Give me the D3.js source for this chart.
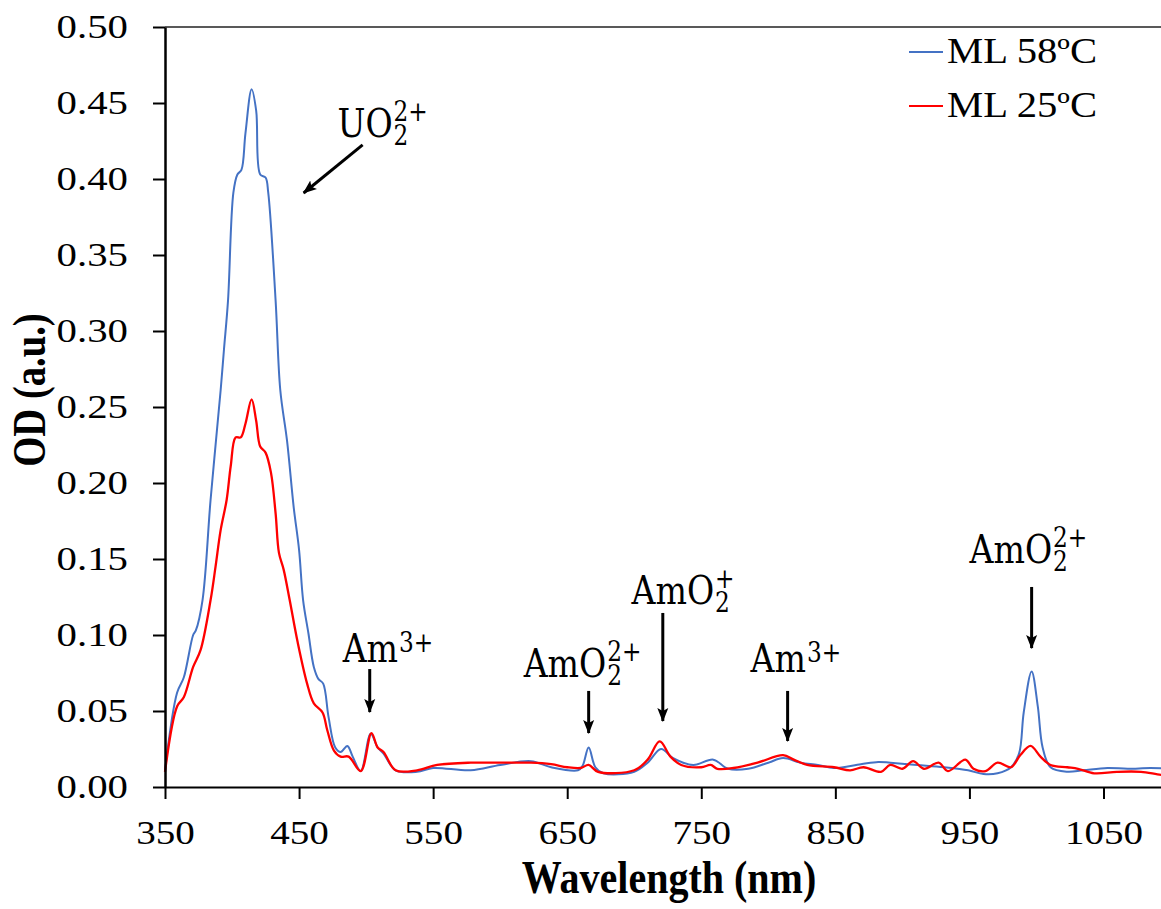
<!DOCTYPE html>
<html>
<head>
<meta charset="utf-8">
<script src="https://cdn.jsdelivr.net/npm/d3@7/dist/d3.min.js"></script>
<style>
  body { margin: 0; background: #fff; }
  svg { display: block; }
  .tick text { font-family: "Liberation Serif", "Times New Roman", serif; font-size: 34px; fill: #000; }
  .axis-title { font-family: "Liberation Serif", "Times New Roman", serif; font-size: 46px; font-weight: bold; }
  .legend text { font-family: "Liberation Serif", "Times New Roman", serif; font-size: 36px; }
  .ann { font-family: "DejaVu Serif", serif; font-size: 40px; }
  .ann-s { font-family: "DejaVu Serif", serif; font-size: 28px; }
</style>
</head>
<body>
<div id="chart"></div>
<script>
// spectra
const wl58 = [350, 359, 364, 371, 373, 378, 384, 391.5, 394, 397, 401, 404, 407, 410, 414.6, 418, 421, 425, 427, 432.5,
  436, 441, 446, 450, 453, 457, 461, 464.5, 468, 472, 477, 481, 486, 490, 496, 503.4, 508.6, 513, 522, 538,
  550, 578, 600, 623, 638, 658, 661.5, 666, 671, 677, 700, 710, 720, 729, 744, 759, 770, 785, 800, 811,
  824, 837, 849, 869, 882, 891, 911, 931, 949, 960.5, 971, 981, 987, 990.5, 996.4, 1001, 1004.6, 1010.5, 1023, 1035,
  1053, 1068, 1085, 1100]
const od58 = [0.011, 0.062, 0.072, 0.100, 0.103, 0.123, 0.189, 0.261, 0.288, 0.320, 0.391, 0.403, 0.406, 0.430, 0.459, 0.445, 0.403, 0.401, 0.391, 0.320,
  0.261, 0.228, 0.184, 0.156, 0.123, 0.101, 0.079, 0.071, 0.068, 0.046, 0.026, 0.023, 0.027, 0.020, 0.0105, 0.035, 0.026, 0.022, 0.011, 0.010,
  0.0125, 0.011, 0.0145, 0.017, 0.013, 0.011, 0.014, 0.026, 0.013, 0.009, 0.010, 0.016, 0.025, 0.019, 0.0145, 0.018, 0.012, 0.012, 0.016, 0.019,
  0.016, 0.0145, 0.0125, 0.015, 0.0165, 0.016, 0.0145, 0.013, 0.011, 0.0085, 0.009, 0.013, 0.022, 0.049, 0.076, 0.053, 0.026, 0.013, 0.010, 0.011,
  0.0125, 0.012, 0.0125, 0.012]

const wl25 = [350, 359, 364, 371, 376.5, 384, 387.7, 391.5, 396, 399, 402.7, 406.5, 410, 414.6, 418, 421, 425, 429, 432.5, 435,
  438.5, 443, 449, 456, 461, 467.5, 471, 476, 481, 487, 496, 504, 508.6, 513, 522, 538, 553, 578, 600, 623,
  638, 650, 660, 666, 673, 700, 710, 719, 727, 735, 750, 757, 762, 774, 792, 811, 819, 829, 849, 861,
  871, 884, 891, 900, 908, 916, 927, 934, 947, 953, 962, 971, 981, 988, 995.6, 1003, 1010.5, 1023, 1031, 1043,
  1060, 1078, 1093, 1100]
const od25 = [0.010, 0.053, 0.059, 0.079, 0.090, 0.123, 0.145, 0.169, 0.189, 0.211, 0.230, 0.230, 0.239, 0.255, 0.241, 0.224, 0.220, 0.207, 0.180, 0.154,
  0.143, 0.123, 0.095, 0.068, 0.055, 0.049, 0.0375, 0.024, 0.020, 0.020, 0.0105, 0.0355, 0.026, 0.023, 0.011, 0.011, 0.0145, 0.016, 0.016, 0.016,
  0.015, 0.013, 0.0125, 0.0145, 0.010, 0.011, 0.018, 0.030, 0.020, 0.0145, 0.013, 0.0145, 0.012, 0.0125, 0.016, 0.021, 0.018, 0.0145, 0.013, 0.011,
  0.013, 0.010, 0.0145, 0.012, 0.017, 0.012, 0.016, 0.0105, 0.018, 0.012, 0.0105, 0.016, 0.013, 0.021, 0.027, 0.020, 0.0145, 0.013, 0.012, 0.009,
  0.010, 0.010, 0.008, 0.008]

const seriesNames = ['ML 58ºC', 'ML 25ºC']
const seriesColors = ['#4472C4', '#FF0000']
const xTicks = [350, 450, 550, 650, 750, 850, 950, 1050]
const yTicks = [0, 0.05, 0.10, 0.15, 0.20, 0.25, 0.30, 0.35, 0.40, 0.45, 0.50]

// peak labels: text, arrow from -> to (wavelength, OD)
const peaks = [
  { base: 'UO', sup: '2+', sub: '2', at: [478.7, 0.4276], from: [497.4, 0.4224], to: [453.4, 0.3908] },
  { base: 'Am', sup: '3+', sub: null, at: [482.5, 0.0822], from: [502.7, 0.0776], to: [502.7, 0.0493] },
  { base: 'AmO', sup: '2+', sub: '2', at: [617.5, 0.0724], from: [666, 0.0632], to: [666, 0.0355] },
  { base: 'AmO', sup: '+', sub: '2', at: [698, 0.1204], from: [721.3, 0.1145], to: [721.3, 0.0434] },
  { base: 'Am', sup: '3+', sub: null, at: [786.8, 0.0757], from: [814.4, 0.0632], to: [814.4, 0.0303] },
  { base: 'AmO', sup: '2+', sub: '2', at: [950.1, 0.1474], from: [996.4, 0.1316], to: [996.4, 0.0914] }
]

const width = 1161
const height = 909
const margin = { top: 27, left: 165, bottom: 122 }

const x = d3.scaleLinear().domain([350, 1100]).range([margin.left, margin.left + 750 * 1.3407])
const y = d3.scaleLinear().domain([0, 0.5]).range([height - margin.bottom, margin.top])

const series = [
  d3.zip(wl58, od58),
  d3.zip(wl25, od25)
]

const line = d3.line()
  .x(d => x(d[0]))
  .y(d => y(d[1]))
  .curve(d3.curveCatmullRom.alpha(0.5))

const svg = d3.select('#chart').append('svg')
  .attr('width', width)
  .attr('height', height)

svg.append('defs').append('marker')
  .attr('id', 'head')
  .attr('markerUnits', 'userSpaceOnUse')
  .attr('viewBox', '0 -6 14 12')
  .attr('refX', 13)
  .attr('refY', 0)
  .attr('markerWidth', 14)
  .attr('markerHeight', 12)
  .attr('orient', 'auto')
  .append('path')
  .attr('d', 'M0,-5.5L14,0L0,5.5L3,0Z')
  .attr('fill', '#000')

// plot frame (top line)
svg.append('line')
  .attr('x1', x(350)).attr('x2', x(1100))
  .attr('y1', y(0.5)).attr('y2', y(0.5))
  .attr('stroke', '#222').attr('stroke-width', 1.6)

svg.append('g').attr('class', 'lines')
  .selectAll('path')
  .data(series)
  .join('path')
  .attr('d', line)
  .attr('fill', 'none')
  .attr('stroke', (d, i) => seriesColors[i])
  .attr('stroke-width', (d, i) => i == 1 ? 2.3 : 2)
  .attr('stroke-linejoin', 'round')

// axes
const xAxis = svg.append('g')
  .attr('class', 'xaxis')
  .attr('transform', `translate(0, ${y(0)})`)
  .call(d3.axisBottom(x).tickValues(xTicks).tickSize(12).tickSizeOuter(0).tickFormat(d3.format('d')))

xAxis.select('.domain').attr('stroke', '#000').attr('stroke-width', 2)
xAxis.selectAll('.tick line').attr('stroke', '#000').attr('stroke-width', 2)
xAxis.selectAll('.tick text')
  .attr('y', 57)
  .attr('dy', 0)
  .attr('transform', 'scale(1.15,1)')

const yAxis = svg.append('g')
  .attr('class', 'yaxis')
  .attr('transform', `translate(${x(350)}, 0)`)
  .call(d3.axisLeft(y).tickValues(yTicks).tickSize(12).tickSizeOuter(0).tickFormat(d3.format('.2f')))

yAxis.select('.domain').attr('stroke', '#000').attr('stroke-width', 2.5)
yAxis.selectAll('.tick line').attr('stroke', '#000').attr('stroke-width', 2)
yAxis.selectAll('.tick text')
  .attr('x', -37 / 1.2)
  .attr('y', 10)
  .attr('dy', 0)
  .attr('transform', 'scale(1.2,1)')

svg.append('text')
  .attr('class', 'axis-title')
  .attr('text-anchor', 'middle')
  .attr('transform', `translate(669, 893) scale(0.87,1)`)
  .text('Wavelength (nm)')

svg.append('text')
  .attr('class', 'axis-title')
  .attr('text-anchor', 'middle')
  .attr('transform', `translate(45, 390) rotate(-90) scale(0.84,1)`)
  .text('OD (a.u.)')

// legend
const legend = svg.append('g').attr('class', 'legend')
  .selectAll('g')
  .data(seriesNames)
  .join('g')
  .attr('transform', (d, i) => `translate(909, ${52 + i * 54})`)

legend.append('line')
  .attr('x1', 0).attr('x2', 34)
  .attr('stroke', (d, i) => seriesColors[i])
  .attr('stroke-width', 2)

legend.append('text')
  .attr('transform', 'translate(38, 11) scale(1.13,1)')
  .text(d => d)

// peak annotations
const ann = svg.append('g').attr('class', 'annotations')

ann.selectAll('line')
  .data(peaks)
  .join('line')
  .attr('x1', d => x(d.from[0])).attr('y1', d => y(d.from[1]))
  .attr('x2', d => x(d.to[0])).attr('y2', d => y(d.to[1]))
  .attr('stroke', '#000')
  .attr('stroke-width', 3)
  .attr('marker-end', 'url(#head)')

peaks.forEach(p => {
  const g = ann.append('g')
    .attr('transform', `translate(${x(p.at[0])}, ${y(p.at[1])}) scale(0.83,1)`)
  const base = g.append('text').attr('class', 'ann').text(p.base)
  const w = base.node().getComputedTextLength() + 1
  if (p.sup) {
    g.append('text').attr('class', 'ann-s')
      .attr('x', w).attr('y', p.sub ? -16 : -10)
      .text(p.sup)
  }
  if (p.sub) {
    g.append('text').attr('class', 'ann-s')
      .attr('x', w).attr('y', 8)
      .text(p.sub)
  }
})
</script>
</body>
</html>
